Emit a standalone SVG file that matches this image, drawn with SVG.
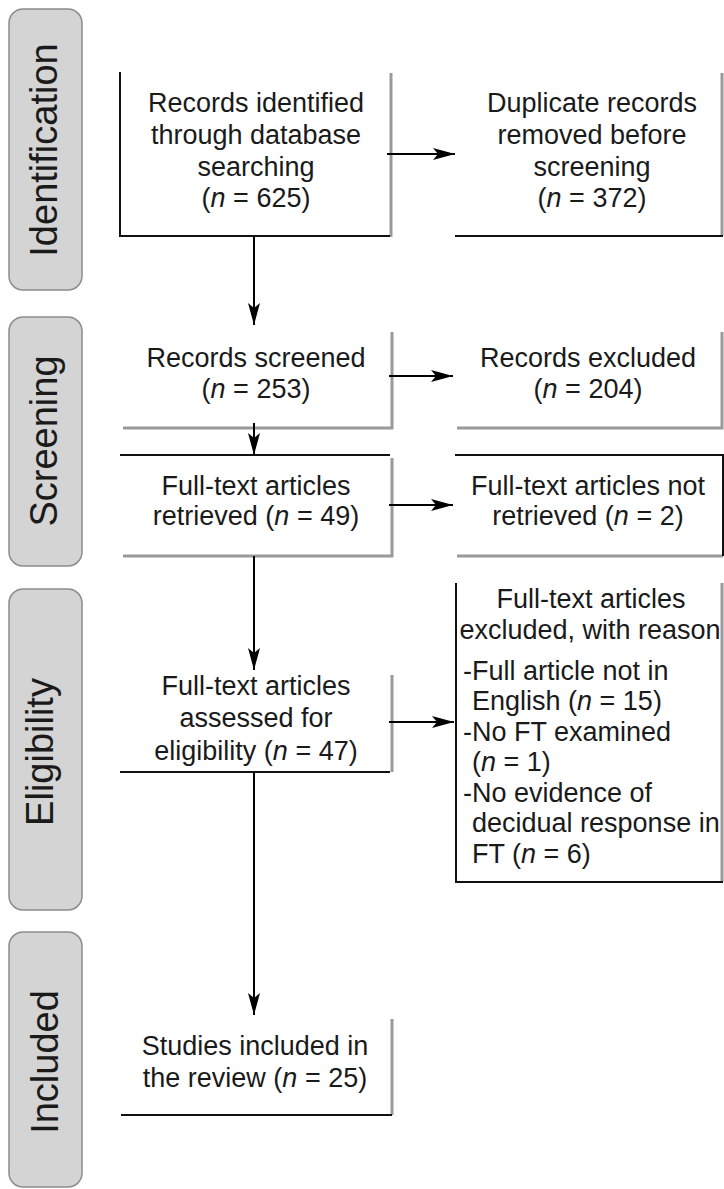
<svg xmlns="http://www.w3.org/2000/svg" width="724" height="1189" viewBox="0 0 724 1189">
<style>
.bg{fill:#ffffff}
.lab{fill:#d4d4d4;stroke:#8c8c8c;stroke-width:1.5}
.labt{font-family:"Liberation Sans",Arial,sans-serif;font-size:38px;fill:#1a1a1a;text-anchor:middle}
.t{font-family:"Liberation Sans",Arial,sans-serif;font-size:27px;fill:#1a1a1a;text-anchor:middle}
.tl{font-family:"Liberation Sans",Arial,sans-serif;font-size:27px;fill:#1a1a1a}
.e{fill:none;stroke:#111111;stroke-width:2}
.g{fill:none;stroke:#9a9a9a;stroke-width:3}
.c{fill:none;stroke:#000000;stroke-width:2}
.i{font-style:italic}
</style>
<defs>
<marker id="ah" markerUnits="userSpaceOnUse" markerWidth="24" markerHeight="14" refX="22" refY="6" orient="auto">
<path d="M0,0 L22,6 L0,12 L5,6 Z" fill="#000000"/>
</marker>
</defs>
<rect class="bg" x="0" y="0" width="724" height="1189"/>

<g id="label-identification">
<rect class="lab" x="9" y="9" width="73" height="281" rx="14"/>
<text class="labt" transform="translate(57,150) rotate(-90)">Identification</text>
</g>
<g id="label-screening">
<rect class="lab" x="9" y="317" width="73" height="249" rx="14"/>
<text class="labt" transform="translate(57,441) rotate(-90)">Screening</text>
</g>
<g id="label-eligibility">
<rect class="lab" x="9" y="589" width="73" height="321" rx="14"/>
<text class="labt" transform="translate(53,752) rotate(-90)">Eligibility</text>
</g>
<g id="label-included">
<rect class="lab" x="9" y="932" width="73" height="255" rx="14"/>
<text class="labt" transform="translate(58,1062) rotate(-90)">Included</text>
</g>

<g id="box-identified">
<path class="g" d="M391,73 V237"/>
<path class="e" d="M120,72 V236 H390"/>
<text class="t" x="256" y="112">Records identified</text>
<text class="t" x="256" y="143.5">through database</text>
<text class="t" x="256" y="175.5">searching</text>
<text class="t" x="256" y="207">(<tspan class="i">n</tspan> = 625)</text>
</g>
<g id="box-duplicates">
<path class="g" d="M722,73 V236"/>
<path class="e" d="M455,236 H723"/>
<text class="t" x="592" y="112">Duplicate records</text>
<text class="t" x="592" y="143.5">removed before</text>
<text class="t" x="592" y="175.5">screening</text>
<text class="t" x="592" y="207">(<tspan class="i">n</tspan> = 372)</text>
</g>
<g id="box-screened">
<path class="g" d="M392,332 V428 H123"/>
<text class="t" x="256" y="367">Records screened</text>
<text class="t" x="256" y="398">(<tspan class="i">n</tspan> = 253)</text>
</g>
<g id="box-excluded">
<path class="g" d="M722,332 V428 H457"/>
<text class="t" x="588" y="367">Records excluded</text>
<text class="t" x="588" y="398">(<tspan class="i">n</tspan> = 204)</text>
</g>
<g id="box-retrieved">
<path class="g" d="M392,458 V556 H123"/>
<path class="e" d="M120,455 H390"/>
<text class="t" x="256" y="495">Full-text articles</text>
<text class="t" x="256" y="525">retrieved (<tspan class="i">n</tspan> = 49)</text>
</g>
<g id="box-not-retrieved">
<path class="g" d="M457,556 H723"/>
<path class="e" d="M455,455 H723 V556"/>
<text class="t" x="588" y="495">Full-text articles not</text>
<text class="t" x="588" y="525">retrieved (<tspan class="i">n</tspan> = 2)</text>
</g>
<g id="box-assessed">
<path class="g" d="M392,675 V772"/>
<path class="e" d="M120,772 H390"/>
<text class="t" x="256" y="695">Full-text articles</text>
<text class="t" x="256" y="727">assessed for</text>
<text class="t" x="256" y="760">eligibility (<tspan class="i">n</tspan> = 47)</text>
</g>
<g id="box-ft-excluded">
<path class="g" d="M722,583 V882"/>
<path class="e" d="M456,583 V882 H723"/>
<text class="t" x="591" y="608">Full-text articles</text>
<text class="t" x="590" y="639">excluded, with reason</text>
<text class="tl" x="463" y="680">-Full article not in</text>
<text class="tl" x="472" y="710">English (<tspan class="i">n</tspan> = 15)</text>
<text class="tl" x="463" y="741">-No FT examined</text>
<text class="tl" x="472" y="771">(<tspan class="i">n</tspan> = 1)</text>
<text class="tl" x="463" y="802">-No evidence of</text>
<text class="tl" x="472" y="832">decidual response in</text>
<text class="tl" x="472" y="863">FT (<tspan class="i">n</tspan> = 6)</text>
</g>
<g id="box-included">
<path class="g" d="M392,1019 V1115"/>
<path class="e" d="M121,1115 H392"/>
<text class="t" x="255" y="1055">Studies included in</text>
<text class="t" x="255" y="1087">the review (<tspan class="i">n</tspan> = 25)</text>
</g>

<g id="connectors">
<path class="c" d="M254,236 V325" marker-end="url(#ah)"/>
<path class="c" d="M387,154 H455" marker-end="url(#ah)"/>
<path class="c" d="M254,423 V455" marker-end="url(#ah)"/>
<path class="c" d="M389,376 H453" marker-end="url(#ah)"/>
<path class="c" d="M254,556 V670" marker-end="url(#ah)"/>
<path class="c" d="M389,505 H453" marker-end="url(#ah)"/>
<path class="c" d="M389,722 H454" marker-end="url(#ah)"/>
<path class="c" d="M254,772 V1015" marker-end="url(#ah)"/>
</g>
</svg>
